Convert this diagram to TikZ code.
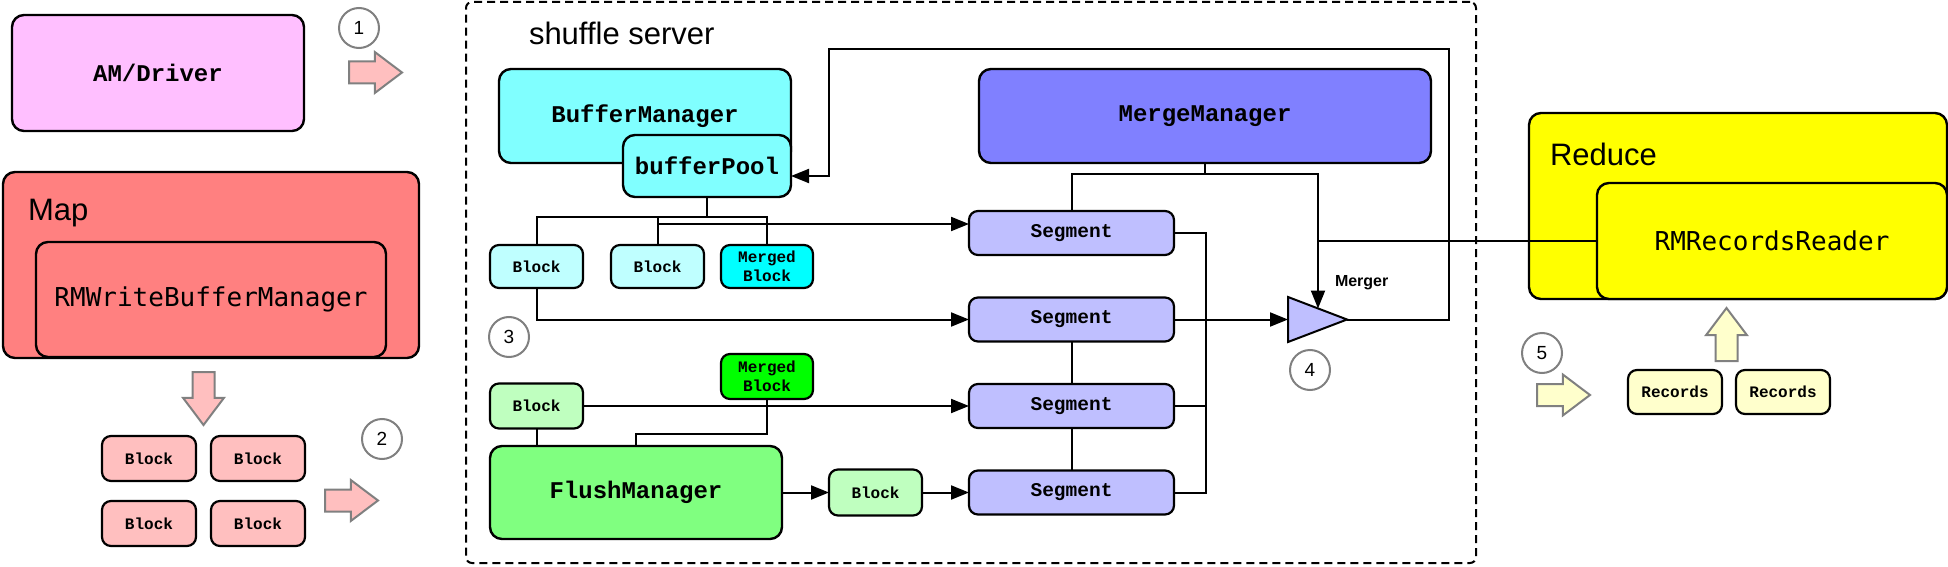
\documentclass[tikz,border=0pt]{standalone}
\usepackage{fontspec}
\setmainfont{Liberation Sans}
\newfontfamily\courfont{Liberation Mono}
\newfontfamily\menlofont{DejaVu Sans Mono}
\usepackage{tikz}
\usetikzlibrary{positioning, arrows.meta, shapes.arrows}
\tikzset{every picture/.style={line width=2pt}}

\definecolor{amcol}{HTML}{FFBFFF}
\definecolor{mapcol}{HTML}{FF8080}
\definecolor{lblkcol}{HTML}{FFBFBF}
\definecolor{bufcol}{HTML}{80FFFF}
\definecolor{cblkcol}{HTML}{BFFFFF}
\definecolor{mcyan}{HTML}{00FFFF}
\definecolor{flcol}{HTML}{80FF80}
\definecolor{gblkcol}{HTML}{BFFFBF}
\definecolor{mgreen}{HTML}{00FF00}
\definecolor{mmcol}{HTML}{8080FF}
\definecolor{segcol}{HTML}{BFBFFF}
\definecolor{redcol}{HTML}{FFFF00}
\definecolor{reccol}{HTML}{FFFFCC}
\definecolor{numgray}{HTML}{808080}

\begin{document}
\begin{tikzpicture}[x=1pt, y=1pt, >={Triangle[length=18pt,width=14pt]},
        box/.style={draw, rounded corners=12pt, inner sep=0pt, outer sep=0pt, line width=2.4pt},
        bigbox/.style={box, font=\courfont\bfseries\fontsize{24}{28}\selectfont},
        smallbox/.style={draw, rounded corners=9pt, inner sep=0pt, outer sep=0pt, line width=2.2pt, minimum width=93pt, minimum height=44pt, align=center, font=\courfont\bfseries\fontsize{16}{19}\selectfont},
        seg/.style={smallbox, fill=segcol, minimum width=205pt, font=\courfont\bfseries\fontsize{19.5}{22}\selectfont},
        num/.style={draw=numgray, circle, minimum size=40pt, inner sep=0pt, line width=2pt, font=\fontsize{19}{22}\selectfont},
        fat/.style={single arrow, draw=numgray, line width=2pt, anchor=tail, minimum height=53pt, inner xsep=0pt, inner ysep=10pt, outer sep=0pt, single arrow head extend=9.5pt, single arrow tip angle=74},
        grouplbl/.style={anchor=west, inner sep=0pt, font=\fontsize{31}{36}\selectfont}]
    \useasboundingbox (0,0) rectangle (1948,566);

    % map side
    \node[bigbox, fill=amcol, minimum width=292pt, minimum height=116pt] (am) at (158,493) {AM/Driver};
    \node[box, fill=mapcol, minimum width=416pt, minimum height=186pt] (map) at (211,301) {};
    \node[grouplbl] (maplbl) at (27,353) {Map};
    \node[box, fill=mapcol, minimum width=350pt, minimum height=115pt, anchor=south, font=\menlofont\fontsize{26}{30}\selectfont] (rmw) at ([yshift=1pt]map.south) {RMWriteBufferManager};
    \node[fat, fill=lblkcol, rotate=-90] (a0) at (203.5,194) {};
    \node[smallbox, fill=lblkcol, minimum width=94pt, minimum height=45pt] (lb1) at (149,107.5) {Block};
    \node[smallbox, fill=lblkcol, minimum width=94pt, minimum height=45pt, right=15pt of lb1] (lb2) {Block};
    \node[smallbox, fill=lblkcol, minimum width=94pt, minimum height=45pt, below=20pt of lb1] (lb3) {Block};
    \node[smallbox, fill=lblkcol, minimum width=94pt, minimum height=45pt, right=15pt of lb3] (lb4) {Block};
    \node[fat, fill=lblkcol] (a1) at (349,493.5) {};
    \node[fat, fill=lblkcol] (a2) at (325,65.5) {};
    \node[num] (n1) at (359,538) {1};
    \node[num] (n2) at (382,127) {2};

    % shuffle server
    \node[draw, dashed, dash pattern=on 8pt off 5pt, rounded corners=6pt, minimum width=1010pt, minimum height=561pt] (ss) at (971,283.5) {};
    \node[grouplbl] (sslbl) at (528,533) {shuffle server};
    \node[bigbox, fill=bufcol, minimum width=292pt, minimum height=94pt] (bm) at (645,450) {BufferManager};
    \node[bigbox, fill=bufcol, minimum width=168pt, minimum height=62pt, anchor=north east] (bp) at ([yshift=-66pt]bm.north east) {bufferPool};
    \node[smallbox, fill=cblkcol, minimum height=43pt] (b1) at (536.5,299.5) {Block};
    \node[smallbox, fill=cblkcol, minimum height=43pt, right=28pt of b1] (b2) {Block};
    \node[smallbox, fill=mcyan, minimum width=92pt, minimum height=43pt, right=17pt of b2] (mb1) {Merged\\Block};
    \node[num] (n3) at (509,229) {3};
    \node[smallbox, fill=mgreen, minimum width=92pt, minimum height=45pt, below=66pt of mb1] (mb2) {Merged\\Block};
    \node[smallbox, fill=gblkcol, minimum height=45pt] (gb) at (536.5,160) {Block};
    \node[bigbox, fill=flcol, minimum width=292pt, minimum height=93pt] (fm) at (636,73.5) {FlushManager};
    \node[smallbox, fill=gblkcol, minimum height=46pt, right=47pt of fm] (rb) {Block};
    \node[bigbox, fill=mmcol, minimum width=452pt, minimum height=94pt] (mm) at (1205,450) {MergeManager};
    \node[seg] (s1) at (1071.5,333) {Segment};
    \node[seg, below=42.5pt of s1] (s2) {Segment};
    \node[seg, below=42.5pt of s2] (s3) {Segment};
    \node[seg, below=42.5pt of s3] (s4) {Segment};
    \coordinate (mgin) at (1288,246.5);
    \coordinate (mgtop) at (1318,257.5);
    \draw[fill=segcol] (1288,269) -- (1288,224) -- (1347,246.5) coordinate (mgtip) -- cycle;
    \node[anchor=west, inner sep=0pt, font=\bfseries\fontsize{16}{19}\selectfont] (mglbl) at (1334,283) {Merger};
    \node[num] (n4) at (1310,196) {4};

    % reduce side
    \node[box, fill=redcol, minimum width=418pt, minimum height=186pt] (red) at (1738,360) {};
    \node[grouplbl] (redlbl) at (1549,412) {Reduce};
    \node[box, fill=redcol, minimum width=350pt, minimum height=116pt, anchor=south east, font=\menlofont\fontsize{26}{30}\selectfont] (rr) at (red.south east) {RMRecordsReader};
    \node[smallbox, fill=reccol, minimum width=94pt] (rec1) at (1675,174) {Records};
    \node[smallbox, fill=reccol, minimum width=94pt, right=14pt of rec1] (rec2) {Records};
    \node[fat, fill=reccol, rotate=90] (a4) at (1726.5,205) {};
    \node[fat, fill=reccol] (a5) at (1537,171) {};
    \node[num] (n5) at (1542,213) {5};

    \draw (bp.south) -- ++(0,-20) coordinate (bpj);
    \draw (b1.north) |- (bpj) -| (mb1.north);
    \draw (b2.north) -- (b2.north |- bpj);
    \draw[->] (b2.north) |- ([yshift=9pt]s1.west);
    \draw[->] (b1.south) |- (s2.west);
    \draw[->] (gb.east) -- (s3.west);
    \draw (gb.south) -- (gb.south |- fm.north);
    \draw (mb2.south) -- ++(0,-35) -| (fm.north);
    \draw[->] (fm.east) -- (rb.west);
    \draw[->] (rb.east) -- (s4.west);
    \draw (s2.south) -- (s3.north);
    \draw (s3.south) -- (s4.north);
    \draw (mm.south) -- ++(0,-11) coordinate (mmj);
    \draw (s1.north) |- (mmj);
    \draw[->] (mmj) -| (mgtop);
    \draw (s1.east) -- ++(32,0) coordinate (bus) |- (s4.east);
    \draw (s3.east) -- (s3.east -| bus);
    \draw[->] (s2.east) -- (mgin);
    \coordinate (fbr) at (1449,517);
    \coordinate (fbl) at (829,390);
    \draw[->] (mgtip) -| (fbr) -| (fbl) -- (fbl -| bp.east);
    \draw (rr.west) -- (rr.west -| mgtop);
\end{tikzpicture}
\end{document}
